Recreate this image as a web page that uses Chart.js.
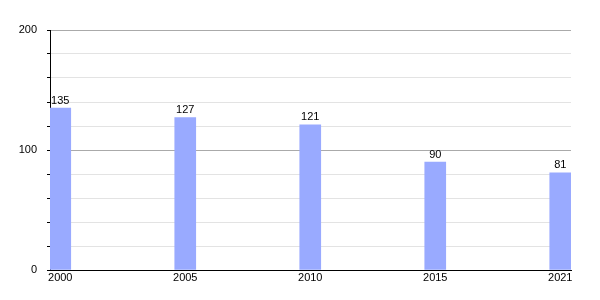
<!DOCTYPE html>
<html>
<head>
<meta charset="utf-8">
<script src="https://cdn.jsdelivr.net/npm/chart.js@4/dist/chart.umd.min.js"></script>
<style>
html,body{margin:0;padding:0;background:#fff;}
#wrap{width:600px;height:300px;position:relative;}
</style>
</head>
<body>
<div id="wrap"><canvas id="c" width="600" height="300"></canvas></div>
<script>
const years = ['2000', '2005', '2010', '2015', '2021'];
const values = [135, 127, 121, 90, 81];
const yTickLabels = [0, 100, 200];

const points = years.map((y, i) => ({x: i, y: values[i]}));

const valueLabels = {
  id: 'valueLabels',
  afterDatasetsDraw(chart) {
    const ctx = chart.ctx;
    const meta = chart.getDatasetMeta(0);
    ctx.save();
    ctx.font = '11px "Liberation Sans", Arial, sans-serif';
    ctx.fillStyle = '#000';
    ctx.textAlign = 'center';
    ctx.textBaseline = 'bottom';
    meta.data.forEach((bar, i) => {
      ctx.fillText(String(values[i]), bar.x, bar.y - 2);
    });
    ctx.restore();
  }
};

new Chart(document.getElementById('c'), {
  type: 'bar',
  data: {
    datasets: [{
      data: points,
      backgroundColor: '#99aaff',
      borderWidth: 0,
      barThickness: 21
    }]
  },
  options: {
    responsive: false,
    animation: false,
    devicePixelRatio: 1,
    layout: {padding: {top: 30, right: 29, bottom: 0, left: 0}},
    plugins: {legend: {display: false}, tooltip: {enabled: false}},
    scales: {
      x: {
        type: 'linear',
        offset: false,
        min: -0.082,
        max: 4.086,
        grid: {display: false, drawTicks: false, tickLength: 0, offset: false},
        border: {display: true, color: '#000', width: 1},
        ticks: {
          stepSize: 1,
          includeBounds: false,
          autoSkip: false,
          maxRotation: 0,
          padding: 1,
          color: '#000',
          font: {family: '"Liberation Sans", Arial, sans-serif', size: 11},
          callback: (v) => (Number.isInteger(v) && years[v] !== undefined) ? years[v] : ''
        },
        afterFit: (s) => { s.height = 30; }
      },
      y: {
        min: 0,
        max: 200,
        grid: {
          color: (c) => (c.tick && c.tick.value % 100 === 0) ? '#aaaaaa' : '#e3e3e3',
          tickColor: '#000',
          tickLength: 3,
          drawTicks: true
        },
        border: {display: true, color: '#000', width: 1},
        ticks: {
          stepSize: 20,
          padding: 10,
          color: '#000',
          font: {family: '"Liberation Sans", Arial, sans-serif', size: 11},
          callback: (v) => yTickLabels.includes(v) ? String(v) : ''
        },
        afterFit: (s) => { s.width = 50; }
      }
    }
  },
  plugins: [valueLabels]
});
</script>
</body>
</html>
